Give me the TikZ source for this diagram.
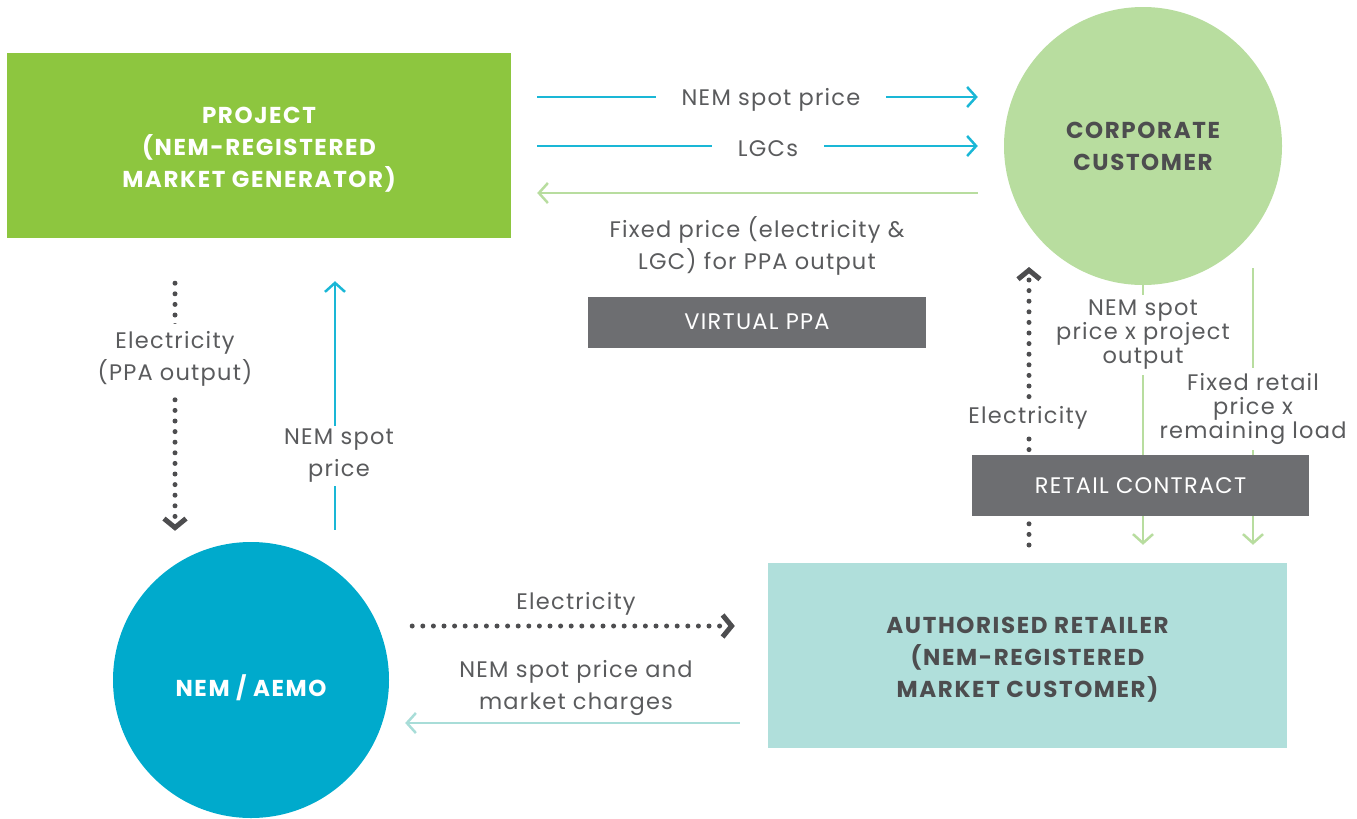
\documentclass[tikz,border=0pt]{standalone}
\usepackage{fontspec}
\setmainfont{Poppins}[LetterSpace=5.5]
\newfontfamily\titlefont{Poppins}[LetterSpace=7]
\usetikzlibrary{arrows.meta}
\definecolor{projgreen}{HTML}{8DC63F}
\definecolor{ccgreen}{HTML}{B8DD9F}
\definecolor{nemblue}{HTML}{00AACC}
\definecolor{retteal}{HTML}{B0DFDB}
\definecolor{boxgray}{HTML}{6D6E71}
\definecolor{cyanline}{HTML}{1AB7D6}
\definecolor{greenline}{HTML}{B8DD9F}
\definecolor{tealline}{HTML}{A8DDD8}
\definecolor{dotgray}{HTML}{4D4D4F}
\definecolor{txtgray}{HTML}{5A5B5D}
\begin{document}
\begin{tikzpicture}[x=1pt,y=-1pt,
  base/.style={font=\fontsize{22.5}{32}\selectfont},
  title/.style={font=\titlefont\fontsize{23}{32}\selectfont\bfseries,align=center},
  lbl/.style={base,text=txtgray,align=center,fill=white,inner sep=4pt,yshift=-3pt},
  lbltight/.style={lbl,font=\fontsize{22.5}{24}\selectfont},
  tagbox/.style={base,fill=boxgray,text=white,inner sep=0pt},
  solidarrow/.style={line width=2.5pt,-{Straight Barb[length=9pt,width=20pt]}},
  dotarrow/.style={draw=dotgray,line width=5pt,line cap=round,dash pattern=on 0pt off 10.6pt,
     -{Straight Barb[length=9pt,width=22pt,line width=5pt]}},
]
\useasboundingbox (0,0) rectangle (1357,819);

% main nodes
\node[fill=projgreen,minimum width=504pt,minimum height=185pt,
  label={[title,text=white,yshift=-4pt]center:{PROJECT\\(NEM-REGISTERED\\MARKET GENERATOR)}}] (proj) at (259,145.5) {};
\node[title,circle,fill=ccgreen,text=dotgray,minimum size=278pt,inner sep=0pt] (cc) at (1143,146)
  {CORPORATE\\CUSTOMER};
\node[circle,fill=nemblue,minimum size=276pt,inner sep=0pt,
  label={[title,text=white,yshift=-8pt]center:{NEM / AEMO}}] (nem) at (251,680) {};
\node[fill=retteal,minimum width=519pt,minimum height=185pt,
  label={[title,text=dotgray,yshift=-4pt]center:{AUTHORISED RETAILER\\(NEM-REGISTERED\\MARKET CUSTOMER)}}] (ret) at (1027.5,655.5) {};

% free ends
\coordinate (eTop) at (1029,267);
\coordinate (eBot) at (1029,545);
\coordinate (fTop) at (1253,268);

% top arrows
\draw[solidarrow,draw=cyanline,shorten <=26pt,shorten >=26pt] (proj.east |- 0,97) -- (cc.west |- 0,97);
\node[lbl,inner xsep=26pt] (l1) at (771,97) {NEM spot price};
\draw[solidarrow,draw=cyanline,shorten <=26pt,shorten >=26pt] (proj.east |- 0,146) -- (cc.west |- 0,146);
\node[lbl,inner xsep=26pt] (l2) at (768,146) {LGCs};
\draw[solidarrow,draw=greenline,shorten <=26pt,shorten >=26pt] (cc.west |- 0,193) -- (proj.east |- 0,193);
\node[lbl] (l3) at (757,243) {Fixed price (electricity \&\\LGC) for PPA output};
\node[tagbox,minimum width=338pt,minimum height=51pt] (vppa) at (757,322) {VIRTUAL PPA};

% left verticals
\draw[dotarrow,shorten <=45pt,shorten >=11pt] (proj.south -| 175,0) -- (nem.north -| 175,0);
\node[lbl,inner ysep=8pt] (l4) at (175,356) {Electricity\\(PPA output)};
\draw[solidarrow,draw=cyanline,shorten <=12pt,shorten >=43pt] (nem.north -| 335,0) -- (proj.south -| 335,0);
\node[lbl,inner sep=3pt] (l5) at (339,453) {NEM spot\\price};

% bottom horizontals
\draw[dotarrow,shorten <=23pt,shorten >=33pt] (nem.east |- 0,626) -- (ret.west |- 0,626);
\node[lbl] (l6) at (576,601) {Electricity};
\draw[solidarrow,draw=tealline,shorten <=28pt,shorten >=16pt] (ret.west |- 0,723) -- (nem.east |- 0,723);
\node[lbl,fill=none] (l7) at (576,685) {NEM spot price and\\market charges};

% right verticals
\draw[dotarrow] (eBot) -- (eTop);
\node[lbl,inner ysep=6pt] (l8) at (1028,415) {Electricity};
\draw[solidarrow,draw=greenline,shorten >=18pt] (cc.south) -- (ret.north -| cc.south);
\node[lbltight,inner sep=5pt] (l9) at (1143,332) {NEM spot\\price x project\\output};
\draw[solidarrow,draw=greenline,shorten >=18pt] (fTop) -- (ret.north -| fTop);
\node[lbltight,inner sep=5pt] (l10) at (1253,406) {Fixed retail\\price x\\remaining load};
\node[tagbox,minimum width=337pt,minimum height=61pt] (rc) at (1140.5,485.5) {RETAIL CONTRACT};
\end{tikzpicture}
\end{document}
